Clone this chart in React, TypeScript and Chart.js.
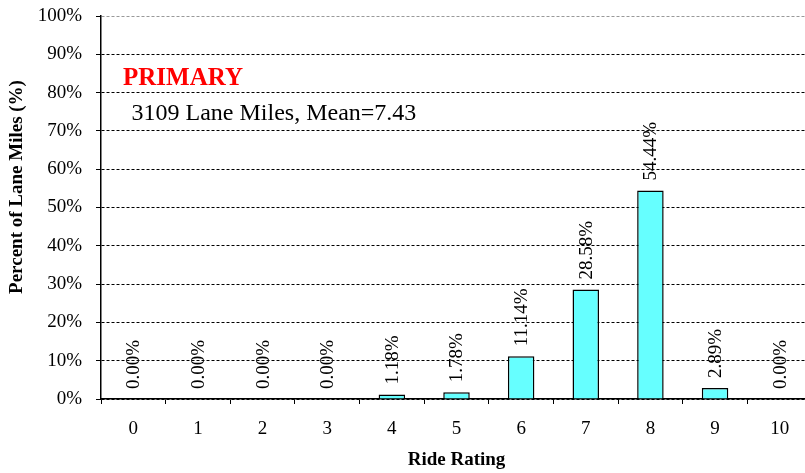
import React, { useEffect, useRef } from "react";
import { Chart, registerables } from "chart.js";

Chart.register(...registerables);

const categories = ["0", "1", "2", "3", "4", "5", "6", "7", "8", "9", "10"];
const percents = [0, 0, 0, 0, 1.18, 1.78, 11.14, 28.58, 54.44, 2.89, 0];
const yTicks = [0, 10, 20, 30, 40, 50, 60, 70, 80, 90, 100];
const titleText = "PRIMARY";
const subtitleText = "3109 Lane Miles, Mean=7.43";
const xTitle = "Ride Rating";
const yTitle = "Percent of Lane Miles (%)";

const SERIF = "'Liberation Serif', 'Times New Roman', serif";

const labelPlugin = {
  id: "barLabels",
  afterDatasetsDraw(chart: any) {
    const ctx = chart.ctx;
    const meta = chart.getDatasetMeta(0);
    ctx.save();
    ctx.font = `19px ${SERIF}`;
    ctx.fillStyle = "#000";
    ctx.textAlign = "left";
    ctx.textBaseline = "middle";
    meta.data.forEach((bar: any, i: number) => {
      const v = percents[i];
      ctx.save();
      ctx.translate(bar.x + 1, bar.y - 10);
      ctx.rotate(-Math.PI / 2);
      ctx.fillText(v.toFixed(2) + "%", 0, 0);
      ctx.restore();
    });
    // annotations
    const area = chart.chartArea;
    const ys = chart.scales.y;
    ctx.textBaseline = "alphabetic";
    ctx.font = `bold 25px ${SERIF}`;
    ctx.fillStyle = "#ff0000";
    ctx.fillText(titleText, area.left + 22, ys.getPixelForValue(82));
    ctx.font = `24px ${SERIF}`;
    ctx.fillStyle = "#000";
    ctx.fillText(subtitleText, area.left + 30.5, ys.getPixelForValue(72.85));
    // y axis title
    ctx.save();
    ctx.font = `bold 19px ${SERIF}`;
    ctx.textAlign = "center";
    ctx.textBaseline = "middle";
    ctx.translate(17, 187);
    ctx.rotate(-Math.PI / 2);
    ctx.fillText(yTitle, 0, 0);
    ctx.restore();
    ctx.restore();
  },
};

export default function App() {
  const ref = useRef<HTMLCanvasElement>(null);
  useEffect(() => {
    const canvas = ref.current!;
    const chart = new Chart(canvas, {
      type: "bar",
      data: {
        labels: categories,
        datasets: [
          {
            data: percents,
            backgroundColor: "#66ffff",
            borderColor: "#000",
            borderWidth: 1.5,
            barPercentage: 0.41,
            categoryPercentage: 1,
          },
        ],
      },
      options: {
        animation: false,
        responsive: false,
        devicePixelRatio: 1,
        layout: { padding: { top: 16, right: 18, left: 0, bottom: 0 } },
        plugins: { legend: { display: false }, tooltip: { enabled: false } },
        scales: {
          x: {
            grid: {
              display: true,
              drawOnChartArea: false,
              offset: true,
              color: "#000",
              lineWidth: 1,
              tickLength: 5,
            },
            border: { display: true, color: "#000", width: 1.5 },
            ticks: {
              color: "#000",
              font: { family: SERIF, size: 19 },
              padding: 14,
            },
            title: {
              display: true,
              text: xTitle,
              color: "#000",
              font: { family: SERIF, size: 19, weight: "bold" },
              padding: { top: 2, bottom: 2 },
            },
            afterFit(scale: any) {
              scale.height = 74;
              scale.paddingLeft = 0;
              scale.paddingRight = 0;
            },
          },
          y: {
            min: 0,
            max: 100,
            afterBuildTicks(scale: any) {
              scale.ticks = yTicks.map((v) => ({ value: v }));
            },
            grid: {
              color: (c: any) => (c.tick && c.tick.value === 100 ? "#999" : "#000"),
              lineWidth: 1,
              tickLength: 5,
              tickColor: "#000",
              tickBorderDash: [],
            },
            border: { display: true, color: "#000", width: 1.5, dash: [3, 2] },
            ticks: {
              color: "#000",
              font: { family: SERIF, size: 19 },
              padding: 14,
              callback: (v: any) => v + "%",
            },
            title: { display: false },
            afterFit(scale: any) {
              scale.width = 101;
              scale.paddingTop = 0;
              scale.paddingBottom = 0;
            },
          },
        },
      },
      plugins: [labelPlugin],
    } as any);
    return () => chart.destroy();
  }, []);
  return (
    <div
      style={{
        position: "fixed",
        left: 0,
        top: 0,
        width: 805,
        height: 473,
        overflow: "hidden",
        background: "#fff",
      }}
    >
      <canvas ref={ref} width={830} height={473} style={{ display: "block", width: 830, height: 473 }} />
    </div>
  );
}
